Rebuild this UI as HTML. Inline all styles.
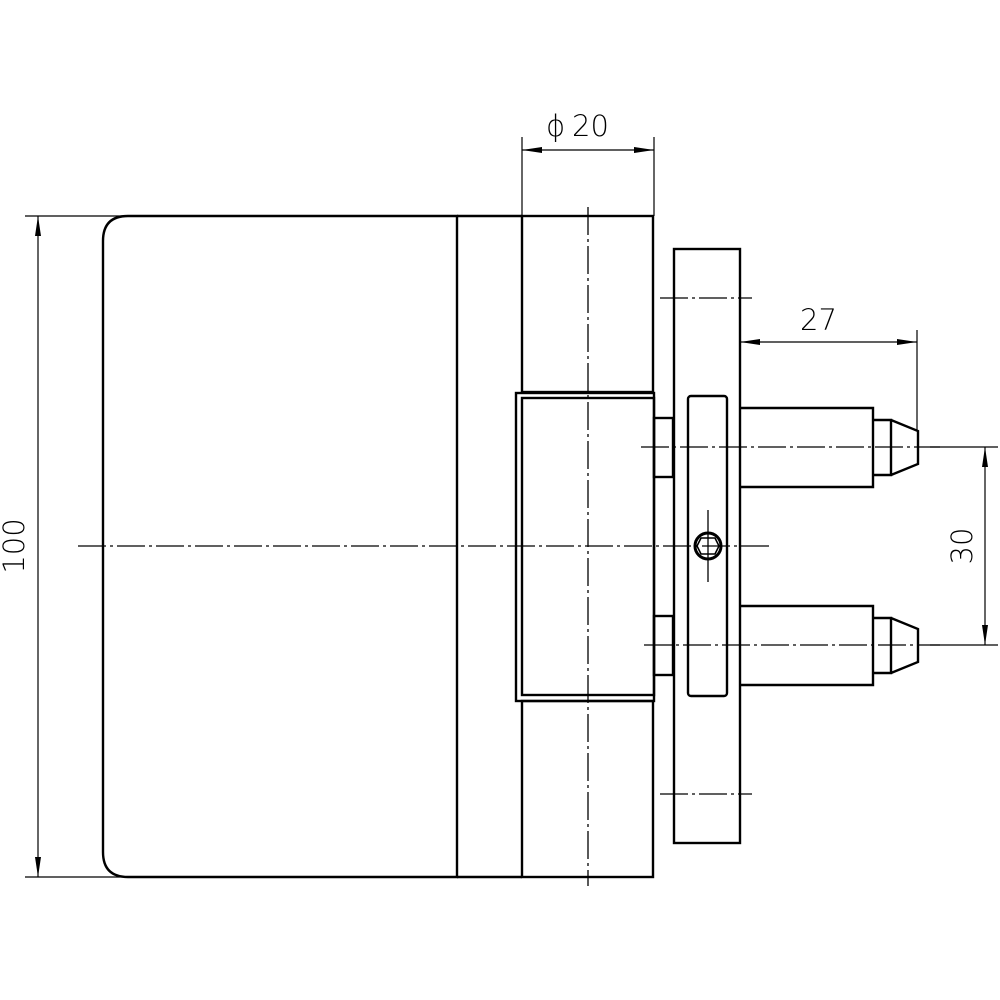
<!DOCTYPE html>
<html><head><meta charset="utf-8"><style>html,body{margin:0;padding:0;background:#fff}svg{display:block}</style></head>
<body>
<svg width="1000" height="1000" viewBox="0 0 1000 1000" xmlns="http://www.w3.org/2000/svg">
<defs>
<marker id="a" viewBox="0 0 20 6" refX="20" refY="3" markerWidth="20" markerHeight="6" markerUnits="userSpaceOnUse" orient="auto-start-reverse"><path d="M0,0 L20,3 L0,6 Z" fill="#000"/></marker>
</defs>
<g fill="none" stroke="#000" stroke-width="2.4">
<path d="M128,216 H457 V877 H128 Q103,877 103,852 V241 Q103,216 128,216 Z"/>
<path d="M457,216 H522 M457,877 H522"/>
<rect x="522" y="216" width="131" height="176"/>
<rect x="522" y="701" width="131" height="176"/>
<rect x="516" y="393" width="138" height="308"/>
<rect x="522" y="398" width="132" height="297"/>
<rect x="654" y="418" width="19" height="59"/>
<rect x="654" y="616" width="19" height="59"/>
<rect x="674" y="249" width="66" height="594"/>
<rect x="688" y="396" width="39" height="300" rx="3"/>
<circle cx="708" cy="546" r="13" stroke-width="3"/>
<polygon points="701,538 715,538 719,546 715,554 701,554 697,546" stroke-width="1.6"/>
<path d="M740,408 H873 V487 H740 M873,420 H891 V475 H873 M891,420 L918,431 V464 L891,475"/>
<path d="M740,606 H873 V685 H740 M873,618 H891 V673 H873 M891,618 L918,629 V662 L891,673"/>
</g>
<g fill="none" stroke="#000" stroke-width="1.3" stroke-dasharray="28,4,3,4">
<line x1="78" y1="546" x2="773" y2="546"/>
<line x1="588" y1="207" x2="588" y2="886"/>
<line x1="641" y1="447" x2="940" y2="447"/>
<line x1="644" y1="645" x2="940" y2="645"/>
<line x1="660" y1="298" x2="752" y2="298"/>
<line x1="660" y1="794" x2="752" y2="794"/>
<line x1="708" y1="510" x2="708" y2="582" stroke-dasharray="none"/>
</g>
<g fill="none" stroke="#000" stroke-width="1.2">
<line x1="522" y1="137" x2="522" y2="216"/>
<line x1="654" y1="137" x2="654" y2="216"/>
<line x1="522" y1="150" x2="654" y2="150" marker-start="url(#a)" marker-end="url(#a)"/>
<line x1="25" y1="216" x2="125" y2="216"/>
<line x1="25" y1="877" x2="125" y2="877"/>
<line x1="38" y1="216" x2="38" y2="877" marker-start="url(#a)" marker-end="url(#a)"/>
<line x1="917" y1="330" x2="917" y2="430"/>
<line x1="740" y1="342" x2="917" y2="342" marker-start="url(#a)" marker-end="url(#a)"/>
<line x1="930" y1="447" x2="998" y2="447"/>
<line x1="930" y1="645" x2="998" y2="645"/>
<line x1="985" y1="447" x2="985" y2="645" marker-start="url(#a)" marker-end="url(#a)"/>
</g>
<g font-family="DejaVu Sans, Liberation Sans, sans-serif" font-size="29" font-weight="200" fill="#000">
<text x="546" y="136">ϕ</text>
<text x="572" y="136">20</text>
<text x="800" y="330">27</text>
<text transform="translate(972,546) rotate(-90)" text-anchor="middle">30</text>
<text transform="translate(24,546) rotate(-90)" text-anchor="middle">100</text>
</g>
</svg>
</body></html>
